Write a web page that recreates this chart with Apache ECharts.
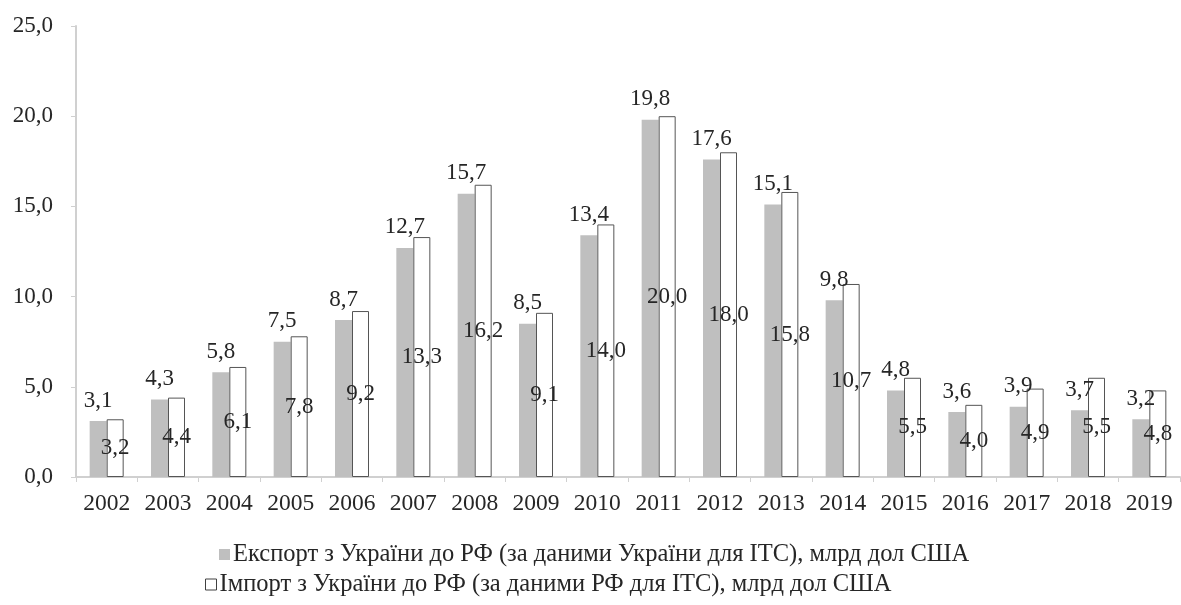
<!DOCTYPE html>
<html>
<head>
<meta charset="utf-8">
<script src="https://cdn.jsdelivr.net/npm/echarts@6/dist/echarts.min.js"></script>
<style>
html,body{margin:0;padding:0;background:#fff;}
#chart{width:1181px;height:605px;}
</style>
</head>
<body>
<div id="chart"></div>
<script>
const years = ['2002','2003','2004','2005','2006','2007','2008','2009','2010','2011','2012','2013','2014','2015','2016','2017','2018','2019'];
const exportUA = [3.1,4.3,5.8,7.5,8.7,12.7,15.7,8.5,13.4,19.8,17.6,15.1,9.8,4.8,3.6,3.9,3.7,3.2];
const importRF = [3.2,4.4,6.1,7.8,9.2,13.3,16.2,9.1,14.0,20.0,18.0,15.8,10.7,5.5,4.0,4.9,5.5,4.8];
const seriesNames = [
  'Експорт з України до РФ (за даними України для ITC), млрд дол США',
  'Імпорт з України до РФ (за даними РФ для ITC), млрд дол США'
];
const fmt = v => Number(v).toFixed(1).replace('.', ',');
const FONT = '"Liberation Serif", "Times New Roman", serif';
const TXT = '#262626';

const chart = echarts.init(document.getElementById('chart'), null, {renderer: 'canvas'});
chart.setOption({
  animation: false,
  textStyle: {fontFamily: FONT},
  grid: {left: 76, right: 1, top: 26, bottom: 128},
  legend: [
    {
      data: [{name: seriesNames[0], icon: 'rect', itemStyle: {color: '#bfbfbf', borderWidth: 0}}],
      left: 214, top: 537, itemWidth: 11, itemHeight: 11, itemGap: 3,
      textStyle: {fontFamily: FONT, fontSize: 24.5, color: TXT, padding: [0,0,0,-2]},
      selectedMode: false
    },
    {
      data: [{name: seriesNames[1], icon: 'rect', itemStyle: {color: '#fff', borderColor: '#404040', borderWidth: 1}}],
      left: 200, top: 567, itemWidth: 11, itemHeight: 11, itemGap: 3,
      textStyle: {fontFamily: FONT, fontSize: 24.5, color: TXT, padding: [0,0,0,-2]},
      selectedMode: false
    }
  ],
  xAxis: {
    type: 'category',
    data: years,
    axisLine: {lineStyle: {color: '#d0d0d0', width: 2}},
    axisTick: {show: true, alignWithLabel: false, length: 5, lineStyle: {color: '#d0d0d0', width: 1}},
    axisLabel: {fontFamily: FONT, fontSize: 23.5, color: TXT, margin: 15, interval: 0}
  },
  yAxis: {
    type: 'value',
    min: 0, max: 25, interval: 5,
    splitLine: {show: false},
    axisLine: {show: true, lineStyle: {color: '#d0d0d0', width: 2}},
    axisTick: {show: true, length: 5, lineStyle: {color: '#d0d0d0', width: 1}},
    axisLabel: {fontFamily: FONT, fontSize: 23, color: TXT, margin: 23, formatter: fmt}
  },
  series: [
    {
      name: seriesNames[0],
      type: 'bar',
      data: exportUA,
      barWidth: 17,
      barGap: '0%',
      itemStyle: {color: '#bfbfbf'},
      label: {show: true, position: 'top', distance: 9, fontFamily: FONT, fontSize: 23, color: TXT, formatter: p => fmt(p.value)}
    },
    {
      name: seriesNames[1],
      type: 'bar',
      data: importRF,
      barWidth: 17,
      barGap: '0%',
      itemStyle: {color: '#ffffff', borderColor: '#555', borderWidth: 1},
      label: {show: true, position: 'inside', fontFamily: FONT, fontSize: 23, color: TXT, formatter: p => fmt(p.value)}
    }
  ]
});
</script>
</body>
</html>
